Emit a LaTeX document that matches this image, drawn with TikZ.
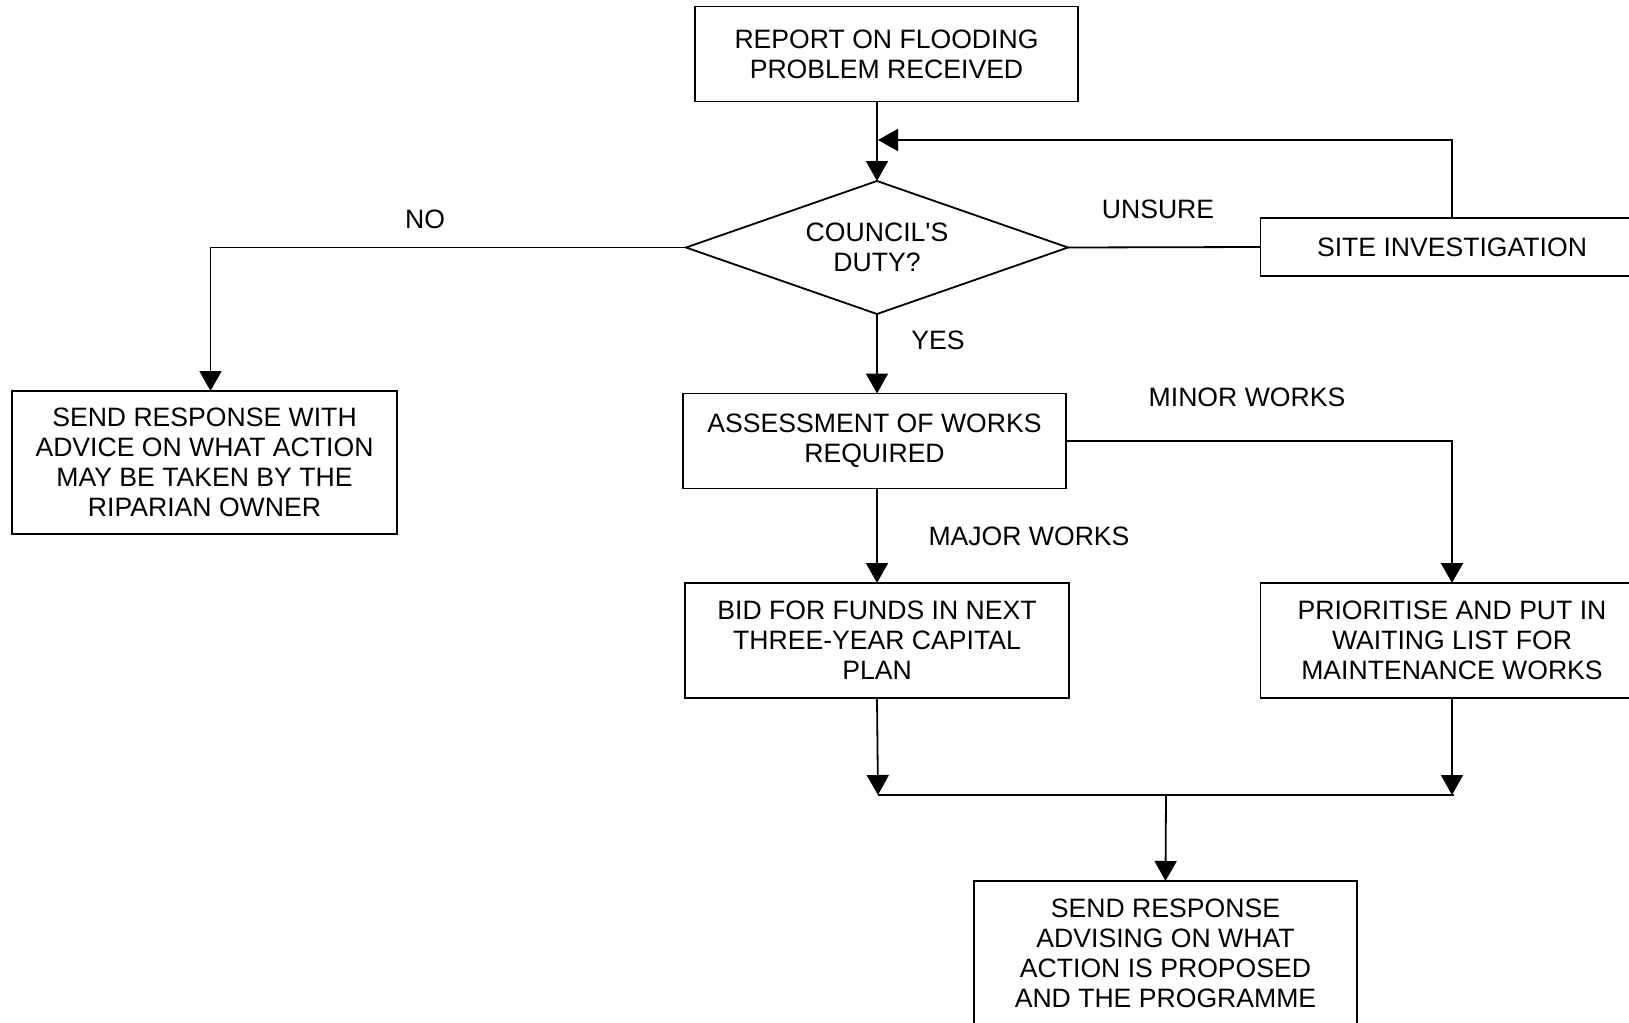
\documentclass[tikz,border=0pt]{standalone}
\usepackage{fontspec}
\newfontfamily\arialf{Liberation Sans}
\usetikzlibrary{arrows.meta,shapes.geometric}
\begin{document}
\begin{tikzpicture}[x=0.5pt,y=-0.5pt,
  every node/.style={font=\arialf\fontsize{13.3}{15}\selectfont},
  box/.style={draw,line width=0.9pt,rectangle,inner sep=0pt,outer sep=0pt,align=center},
  dec/.style={draw,line width=0.9pt,diamond,inner sep=0pt,outer sep=0pt,align=center,
    minimum width=191pt,minimum height=66.5pt,aspect=2.87},
  lbl/.style={inner sep=0pt},
  conn/.style={line width=0.9pt},
  arr/.style={conn,-{Triangle[width=11pt,length=10pt]}}]
\fill[white] (0,0) rectangle (1629,1023);
\useasboundingbox (0,0) rectangle (1629,1023);

\node[box,minimum width=191.5pt,minimum height=47.5pt] (top) at (886.5,54) {REPORT ON FLOODING\\PROBLEM RECEIVED};
\node[dec] (dia) at (877,247.5) {COUNCIL'S\\DUTY?};
\node[box,minimum width=191.5pt,minimum height=29pt] (site) at (1452,247) {SITE INVESTIGATION};
\node[box,minimum width=192.5pt,minimum height=71.5pt] (left) at (204.5,462.5) {SEND RESPONSE WITH\\ADVICE ON WHAT ACTION\\MAY BE TAKEN BY THE\\RIPARIAN OWNER};
\node[box,minimum width=191.5pt,minimum height=47.5pt] (assess) at (874.5,441) {ASSESSMENT OF WORKS\\REQUIRED};
\node[box,minimum width=192pt,minimum height=57.5pt] (bid) at (877,640.5) {BID FOR FUNDS IN NEXT\\THREE-YEAR CAPITAL\\PLAN};
\node[box,minimum width=191.5pt,minimum height=57.5pt] (prio) at (1452,640.5) {PRIORITISE AND PUT IN\\WAITING LIST FOR\\MAINTENANCE WORKS};
\node[box,minimum width=191.5pt,minimum height=72.5pt] (resp) at (1165.5,953.5) {SEND RESPONSE\\ADVISING ON WHAT\\ACTION IS PROPOSED\\AND THE PROGRAMME};

\node[lbl] (lno) at (425,219) {NO};
\node[lbl] (lunsure) at (1158,209) {UNSURE};
\node[lbl] (lyes) at (938,340) {YES};
\node[lbl] (lminor) at (1247,397) {MINOR WORKS};
\node[lbl] (lmajor) at (1029,536) {MAJOR WORKS};

\coordinate (fbj) at (878,140);
\coordinate (mL) at (878,795);
\coordinate (mR) at (1454,795);
\coordinate (mM) at (1166,795);

\draw[arr] (top.south -| dia.north) -- (dia.north);
\draw[arr] (site.north) |- (fbj);
\draw[conn] (dia.east) -- (site.west);
\draw[arr] (dia.west) -| ([xshift=3pt]left.north);
\draw[arr] (dia.south) -- (dia.south |- assess.north);
\draw[arr] (assess.east) -| (prio.north);
\draw[arr] (assess.south -| bid.north) -- (bid.north);
\draw[arr] (bid.south) -- (mL);
\draw[arr] (prio.south) -- (prio.south |- mR);
\draw[conn] (mL) -- (mR);
\draw[arr] (mM) -- (resp.north);
\end{tikzpicture}
\end{document}
